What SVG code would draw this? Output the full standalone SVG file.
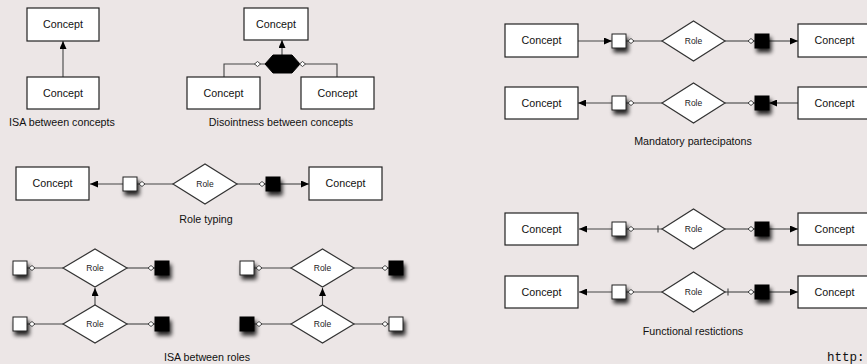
<svg xmlns="http://www.w3.org/2000/svg" xmlns:xlink="http://www.w3.org/1999/xlink" width="867" height="364" viewBox="0 0 867 364">
<style>
.box{fill:#fff;stroke:#222;stroke-width:1.2}
.role{fill:#fff;stroke:#333;stroke-width:1.2}
.ln{fill:none;stroke:#444;stroke-width:1.1}
.sqw{fill:#fff;stroke:#222;stroke-width:1}
.sqb{fill:#000;stroke:#000;stroke-width:1}
.sd{fill:#fff;stroke:#333;stroke-width:0.9}
.t{font-family:"Liberation Sans",Arial,Helvetica,sans-serif;font-size:10.7px;fill:#111;text-anchor:middle}
.tr{font-family:"Liberation Sans",Arial,Helvetica,sans-serif;font-size:8.5px;fill:#222;text-anchor:middle}
.m{font-family:"Liberation Mono","Courier New",monospace;font-size:12.5px;fill:#111}
</style>
<defs>
<marker id="ah" markerUnits="userSpaceOnUse" markerWidth="8" markerHeight="7" refX="8" refY="3.5" orient="auto">
<path d="M0,0 L8,3.5 L0,7 z" fill="#000"/>
</marker>
<filter id="sh" x="-60%" y="-60%" width="240%" height="240%">
<feGaussianBlur in="SourceAlpha" stdDeviation="2.2"/>
<feOffset dx="1.5" dy="3.5" result="b"/>
<feComponentTransfer><feFuncA type="linear" slope="0.85"/></feComponentTransfer>
<feMerge><feMergeNode/><feMergeNode in="SourceGraphic"/></feMerge>
</filter>
<path id="sd" class="sd" d="M-3,0 L0,-2.5 L3,0 L0,2.5 Z"/>
<rect id="sqw" class="sqw" x="0" y="0" width="14" height="14" filter="url(#sh)"/>
<rect id="sqb" class="sqb" x="0" y="0" width="14" height="14" filter="url(#sh)"/>
</defs>
<rect x="0" y="0" width="867" height="364" fill="#ece6e6"/>

<g id="connectors">
<line class="ln" x1="63" y1="77" x2="63" y2="41" marker-end="url(#ah)"/>
<line class="ln" x1="282" y1="55" x2="282" y2="40" marker-end="url(#ah)"/>
<polyline class="ln" points="224,77 224,64 265,64"/>
<polyline class="ln" points="300,64 337,64 337,77"/>
<line class="ln" x1="123" y1="184" x2="90" y2="184" marker-end="url(#ah)"/>
<line class="ln" x1="137" y1="184" x2="173" y2="184"/>
<line class="ln" x1="237" y1="184" x2="266" y2="184"/>
<line class="ln" x1="280" y1="184" x2="309" y2="184" marker-end="url(#ah)"/>
<line class="ln" x1="27" y1="268" x2="63" y2="268"/>
<line class="ln" x1="127" y1="268" x2="155" y2="268"/>
<line class="ln" x1="27" y1="324" x2="63" y2="324"/>
<line class="ln" x1="127" y1="324" x2="155" y2="324"/>
<line class="ln" x1="95" y1="305" x2="95" y2="288" marker-end="url(#ah)"/>
<line class="ln" x1="254" y1="268" x2="291" y2="268"/>
<line class="ln" x1="354" y1="268" x2="389" y2="268"/>
<line class="ln" x1="254" y1="324" x2="291" y2="324"/>
<line class="ln" x1="354" y1="324" x2="389" y2="324"/>
<line class="ln" x1="322.5" y1="305" x2="322.5" y2="288" marker-end="url(#ah)"/>
<line class="ln" x1="578" y1="41" x2="612" y2="41" marker-end="url(#ah)"/>
<line class="ln" x1="626" y1="41" x2="662" y2="41"/>
<line class="ln" x1="725" y1="41" x2="755" y2="41"/>
<line class="ln" x1="769" y1="41" x2="798" y2="41" marker-end="url(#ah)"/>
<line class="ln" x1="612" y1="103" x2="578" y2="103" marker-end="url(#ah)"/>
<line class="ln" x1="626" y1="103" x2="662" y2="103"/>
<line class="ln" x1="725" y1="103" x2="755" y2="103"/>
<line class="ln" x1="798" y1="103" x2="769" y2="103" marker-end="url(#ah)"/>
<line class="ln" x1="612" y1="229" x2="579" y2="229" marker-end="url(#ah)"/>
<line class="ln" x1="626" y1="229" x2="662" y2="229"/>
<line class="ln" x1="658" y1="225.5" x2="658" y2="232.5"/>
<line class="ln" x1="725" y1="229" x2="755" y2="229"/>
<line class="ln" x1="769" y1="229" x2="798" y2="229" marker-end="url(#ah)"/>
<line class="ln" x1="612" y1="292" x2="579" y2="292" marker-end="url(#ah)"/>
<line class="ln" x1="626" y1="292" x2="662" y2="292"/>
<line class="ln" x1="725" y1="292" x2="755" y2="292"/>
<line class="ln" x1="728" y1="288.5" x2="728" y2="295.5"/>
<line class="ln" x1="769" y1="292" x2="798" y2="292" marker-end="url(#ah)"/>
</g>

<g id="isa-c-top"><rect class="box" x="27" y="8" width="72" height="33"/><text class="t" x="63" y="28">Concept</text></g>
<g id="isa-c-bottom"><rect class="box" x="27" y="77" width="72" height="32"/><text class="t" x="63" y="97">Concept</text></g>
<text class="t" x="62" y="126">ISA between concepts</text>

<g id="dis-top"><rect class="box" x="244" y="8" width="64" height="32"/><text class="t" x="276" y="28">Concept</text></g>
<g id="dis-hex"><polygon points="265,64 273,55 292,55 300,64 292,73 273,73" fill="#000" stroke="#000"/></g>
<g id="dis-left"><rect class="box" x="187" y="77" width="73" height="32"/><text class="t" x="223.5" y="97">Concept</text></g>
<g id="dis-right"><rect class="box" x="301" y="77" width="73" height="32"/><text class="t" x="337.5" y="97">Concept</text></g>
<use href="#sd" x="257.5" y="64"/>
<use href="#sd" x="302.5" y="64"/>
<text class="t" x="281" y="126">Disointness between concepts</text>

<g id="rt-left"><rect class="box" x="16" y="167" width="73" height="33"/><text class="t" x="52.5" y="187">Concept</text></g>
<g id="rt-sqw"><use href="#sqw" x="123" y="177"/><use href="#sd" x="142" y="184"/></g>
<g id="rt-role"><polygon class="role" points="173,184 205,164 237,184 205,204"/><text class="tr" x="205" y="187">Role</text></g>
<g id="rt-sqb"><use href="#sd" x="262" y="184"/><use href="#sqb" x="266" y="177"/></g>
<g id="rt-right"><rect class="box" x="309" y="167" width="73" height="33"/><text class="t" x="345.5" y="187">Concept</text></g>
<text class="t" x="206" y="223">Role typing</text>

<g id="ir-l-top">
<use href="#sqw" x="13" y="261"/><use href="#sd" x="32" y="268"/>
<polygon class="role" points="63,268 95,249 127,268 95,287"/><text class="tr" x="95" y="271">Role</text>
<use href="#sd" x="151" y="268"/><use href="#sqb" x="155" y="261"/>
</g>
<g id="ir-l-bottom">
<use href="#sqw" x="13" y="317"/><use href="#sd" x="32" y="324"/>
<polygon class="role" points="63,324 95,305 127,324 95,343"/><text class="tr" x="95" y="327">Role</text>
<use href="#sd" x="151" y="324"/><use href="#sqb" x="155" y="317"/>
</g>
<g id="ir-r-top">
<use href="#sqw" x="240" y="261"/><use href="#sd" x="259" y="268"/>
<polygon class="role" points="291,268 322.5,249 354,268 322.5,287"/><text class="tr" x="322.5" y="271">Role</text>
<use href="#sd" x="385" y="268"/><use href="#sqb" x="389" y="261"/>
</g>
<g id="ir-r-bottom">
<use href="#sqb" x="240" y="317"/><use href="#sd" x="259" y="324"/>
<polygon class="role" points="291,324 322.5,305 354,324 322.5,343"/><text class="tr" x="322.5" y="327">Role</text>
<use href="#sd" x="385" y="324"/><use href="#sqw" x="389" y="317"/>
</g>
<text class="t" x="207" y="361">ISA between roles</text>

<g id="mp1-left"><rect class="box" x="505" y="24" width="73" height="33"/><text class="t" x="541.5" y="44">Concept</text></g>
<g id="mp1-mid">
<use href="#sqw" x="612" y="34"/><use href="#sd" x="631" y="41"/>
<polygon class="role" points="662,41 693.5,21 725,41 693.5,61"/><text class="tr" x="693.5" y="44">Role</text>
<use href="#sd" x="751" y="41"/><use href="#sqb" x="755" y="34"/>
</g>
<g id="mp1-right"><rect class="box" x="798" y="24" width="73" height="33"/><text class="t" x="834.5" y="44">Concept</text></g>

<g id="mp2-left"><rect class="box" x="505" y="87" width="73" height="32"/><text class="t" x="541.5" y="106.5">Concept</text></g>
<g id="mp2-mid">
<use href="#sqw" x="612" y="96"/><use href="#sd" x="631" y="103"/>
<polygon class="role" points="662,103 693.5,83 725,103 693.5,123"/><text class="tr" x="693.5" y="106">Role</text>
<use href="#sd" x="751" y="103"/><use href="#sqb" x="755" y="96"/>
</g>
<g id="mp2-right"><rect class="box" x="798" y="87" width="73" height="32"/><text class="t" x="834.5" y="106.5">Concept</text></g>
<text class="t" x="693" y="145">Mandatory partecipatons</text>

<g id="fr1-left"><rect class="box" x="505" y="213" width="73" height="32"/><text class="t" x="541.5" y="232.5">Concept</text></g>
<g id="fr1-mid">
<use href="#sqw" x="612" y="222"/><use href="#sd" x="631" y="229"/>
<polygon class="role" points="662,229 693.5,209 725,229 693.5,249"/><text class="tr" x="693.5" y="232">Role</text>
<use href="#sd" x="751" y="229"/><use href="#sqb" x="755" y="222"/>
</g>
<g id="fr1-right"><rect class="box" x="798" y="213" width="73" height="32"/><text class="t" x="834.5" y="232.5">Concept</text></g>

<g id="fr2-left"><rect class="box" x="505" y="276" width="73" height="32"/><text class="t" x="541.5" y="295.5">Concept</text></g>
<g id="fr2-mid">
<use href="#sqw" x="612" y="285"/><use href="#sd" x="631" y="292"/>
<polygon class="role" points="662,292 693.5,272 725,292 693.5,312"/><text class="tr" x="693.5" y="295">Role</text>
<use href="#sd" x="751" y="292"/><use href="#sqb" x="755" y="285"/>
</g>
<g id="fr2-right"><rect class="box" x="798" y="276" width="73" height="32"/><text class="t" x="834.5" y="295.5">Concept</text></g>
<text class="t" x="693" y="335">Functional restictions</text>

<text class="m" x="827" y="361">http:</text>
</svg>
